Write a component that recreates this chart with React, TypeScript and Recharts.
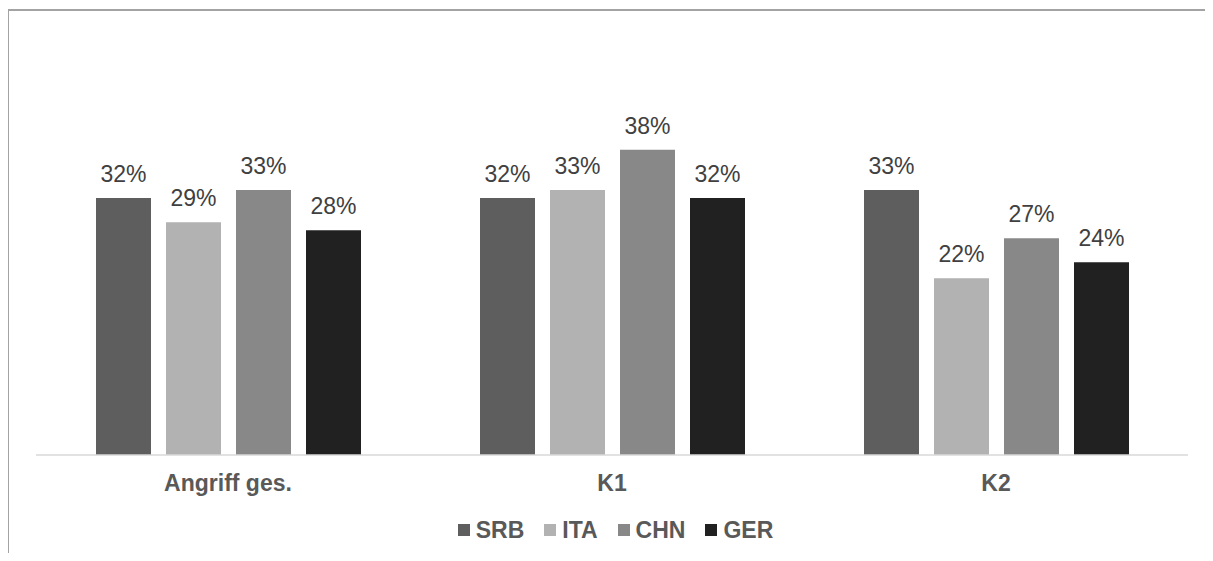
import { BarChart, Bar, XAxis, YAxis, LabelList, Legend } from 'recharts'

const categories = ['Angriff ges.', 'K1', 'K2']
const srb = [32, 32, 33]
const ita = [29, 33, 22]
const chn = [33, 38, 27]
const ger = [28, 32, 24]

const seriesNames = ['SRB', 'ITA', 'CHN', 'GER']
const seriesColors = ['#5e5e5e', '#b2b2b2', '#888888', '#212121']

const data = categories.map((name, i) => ({
  name,
  SRB: srb[i],
  ITA: ita[i],
  CHN: chn[i],
  GER: ger[i],
}))

const FONT = '"Liberation Sans", Arial, sans-serif'

function CategoryTick(props: any) {
  const { x, y, payload } = props
  return (
    <text
      x={x}
      y={y}
      dy={36}
      textAnchor="middle"
      fill="#595959"
      fontSize={23}
      fontWeight="bold"
      fontFamily={FONT}
    >
      {payload.value}
    </text>
  )
}

function LegendContent() {
  return (
    <div
      style={{
        display: 'flex',
        justifyContent: 'center',
        alignItems: 'center',
        height: 30,
        fontFamily: FONT,
        fontSize: 23,
        fontWeight: 'bold',
        color: '#595959',
      }}
    >
      {seriesNames.map((s, i) => (
        <div key={s} style={{ display: 'flex', alignItems: 'center', marginRight: i < 3 ? 20 : 0 }}>
          <span
            style={{
              display: 'inline-block',
              width: 12,
              height: 12,
              background: seriesColors[i],
              marginRight: 6,
            }}
          />
          <span>{s}</span>
        </div>
      ))}
    </div>
  )
}

export default function App() {
  return (
    <div style={{ position: 'relative', width: 1197, height: 545 }}>
      <style>{'html, body { overflow: hidden; }'}</style>
      <div
        style={{
          position: 'absolute',
          top: 1,
          left: 0,
          width: 1210,
          height: 560,
          borderTop: '2px solid #a3a3a3',
          borderLeft: '1.5px solid #a3a3a3',
          pointerEvents: 'none',
        }}
      />
      <BarChart
        width={1197}
        height={545}
        data={data}
        margin={{ top: 45.5, right: 17, left: 28, bottom: 58 }}
        barSize={55}
        barGap={15}
      >
        <XAxis
          dataKey="name"
          height={40}
          tickLine={false}
          tickSize={0}
          tickMargin={0}
          axisLine={{ stroke: '#d9d9d9', strokeWidth: 1.5 }}
          tick={<CategoryTick />}
        />
        <YAxis hide domain={[0, 50]} />
        <Legend
          layout="horizontal"
          verticalAlign="middle"
          content={<LegendContent />}
          wrapperStyle={{ top: 507, left: 15, width: 1185 }}
        />
        {seriesNames.map((s, i) => (
          <Bar key={s} dataKey={s} fill={seriesColors[i]} isAnimationActive={false}>
            <LabelList
              dataKey={s}
              position="top"
              offset={16}
              formatter={(v: any) => `${v}%`}
              fill="#404040"
              fontSize={23}
              fontFamily={FONT}
            />
          </Bar>
        ))}
      </BarChart>
    </div>
  )
}
